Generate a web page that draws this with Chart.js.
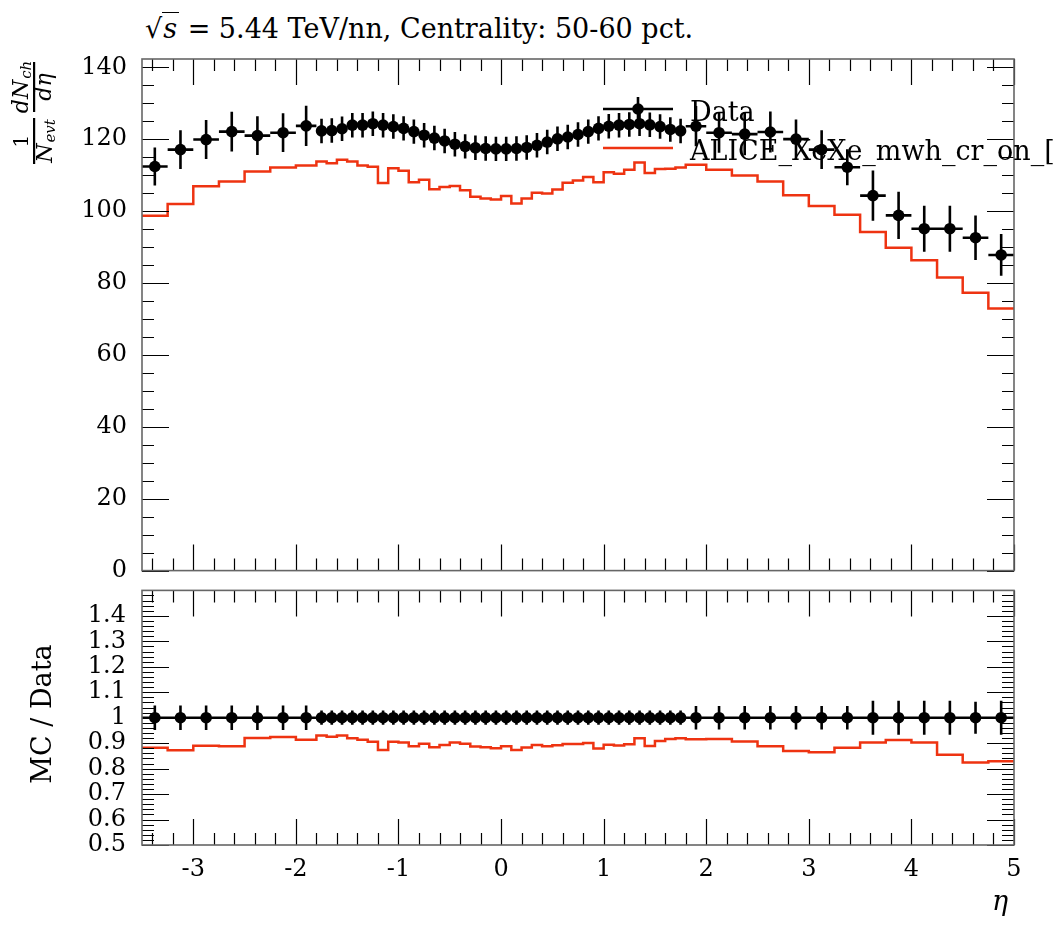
<!DOCTYPE html>
<html lang="en">
<head>
<meta charset="UTF-8">
<title>dN/deta XeXe 5.44 TeV, 50-60%</title>
<style>
  body { margin: 0; background: #fff; }
  #wrap { position: relative; width: 1054px; height: 930px; overflow: hidden; }
  #wrap canvas { position: absolute; left: 0; }
  #title { position: absolute; left: 145px; top: 13px; font: 27px "DejaVu Serif", serif; white-space: nowrap; color: #000; }
  #title .rad { font-style: italic; border-top: 1.5px solid #000; padding: 0 2px 0 1px; }
</style>
</head>
<body>
<div id="wrap">
  <div id="title">√<span class="rad">s</span> = 5.44 TeV/nn, Centrality: 50-60 pct.</div>
  <canvas id="mainChart" width="1054" height="600" style="top:0"></canvas>
  <canvas id="ratioChart" width="1054" height="370" style="top:560px"></canvas>
</div>

<script src="https://cdn.jsdelivr.net/npm/chart.js"></script>
<script>
// bin edges in eta (56 bins)
const etaEdges = [-3.5, -3.25, -3.0, -2.75, -2.5, -2.25, -2.0, -1.8,
  -1.7, -1.6, -1.5, -1.4, -1.3, -1.2, -1.1, -1.0, -0.9, -0.8, -0.7, -0.6, -0.5, -0.4, -0.3, -0.2, -0.1,
  0.0, 0.1, 0.2, 0.3, 0.4, 0.5, 0.6, 0.7, 0.8, 0.9, 1.0, 1.1, 1.2, 1.3, 1.4, 1.5, 1.6, 1.7, 1.8,
  2.0, 2.25, 2.5, 2.75, 3.0, 3.25, 3.5, 3.75, 4.0, 4.25, 4.5, 4.75, 5.0];

// measured dN/deta (Data)
const dataVals = [112.4, 117.1, 119.9, 122.1, 121.0, 121.8, 123.7,
  122.3, 122.4, 122.9, 123.9, 123.9, 124.3, 123.9, 123.5, 123.0, 122.1, 121.1, 120.3, 119.5, 118.6, 118.0, 117.6, 117.4, 117.3,
  117.3, 117.4, 117.7, 118.3, 119.2, 120.1, 120.6, 121.3, 122.1, 123.0, 123.6, 123.9, 124.1, 124.3, 124.0, 123.5, 122.7, 122.3,
  123.6, 121.8, 121.4, 122.0, 120.0, 117.1, 112.2, 104.3, 98.8, 95.1, 95.1, 92.6, 87.8];
const dataErr = [5.3, 5.4, 5.4, 5.5, 5.4, 5.4, 5.6,
  3.4, 3.4, 3.4, 3.4, 3.4, 3.4, 3.4, 3.4, 3.4, 3.4, 3.4, 3.4, 3.4, 3.4, 3.4, 3.4, 3.4, 3.4,
  3.4, 3.4, 3.4, 3.4, 3.4, 3.4, 3.4, 3.4, 3.4, 3.4, 3.4, 3.4, 3.4, 3.4, 3.4, 3.4, 3.4, 3.4,
  5.6, 5.6, 5.9, 5.7, 5.5, 5.4, 5.0, 7.0, 6.6, 6.4, 6.4, 6.2, 5.8];

// ALICE_XeXe_mwh_cr_on (MC histogram)
const mcVals = [98.7, 102.0, 106.9, 108.2, 111.0, 112.1, 112.7,
  113.8, 113.3, 114.3, 113.8, 112.7, 112.3, 107.8, 111.9, 111.2, 108.0, 108.7, 106.1, 106.7, 107.0, 105.8, 104.0, 103.5, 103.2,
  104.2, 102.1, 103.5, 105.1, 104.9, 106.0, 107.9, 108.5, 109.5, 108.0, 110.8, 110.4, 111.5, 113.5, 110.6, 111.7, 111.8, 112.1,
  112.9, 111.5, 109.9, 108.2, 104.4, 101.4, 99.0, 94.2, 89.8, 86.3, 81.5, 77.3, 72.9];

// ratio panel
const ratioMc = [0.882, 0.872, 0.890, 0.888, 0.920, 0.924, 0.913,
  0.930, 0.925, 0.930, 0.919, 0.913, 0.906, 0.873, 0.906, 0.903, 0.888, 0.898, 0.884, 0.893, 0.903, 0.898, 0.887, 0.884, 0.880,
  0.888, 0.873, 0.883, 0.893, 0.888, 0.892, 0.897, 0.897, 0.901, 0.879, 0.894, 0.891, 0.896, 0.919, 0.889, 0.908, 0.916, 0.919,
  0.915, 0.916, 0.907, 0.888, 0.869, 0.864, 0.882, 0.903, 0.912, 0.903, 0.854, 0.824, 0.829];
const ratioData = [1, 1, 1, 1, 1, 1, 1,
  1, 1, 1, 1, 1, 1, 1, 1, 1, 1, 1, 1, 1, 1, 1, 1, 1, 1,
  1, 1, 1, 1, 1, 1, 1, 1, 1, 1, 1, 1, 1, 1, 1, 1, 1, 1,
  1, 1, 1, 1, 1, 1, 1, 1, 1, 1, 1, 1, 1];
const ratioErr = [0.048, 0.048, 0.048, 0.048, 0.048, 0.048, 0.048,
  0.028, 0.028, 0.028, 0.028, 0.028, 0.028, 0.028, 0.028, 0.028, 0.028, 0.028, 0.028, 0.028, 0.028, 0.028, 0.028, 0.028, 0.028,
  0.028, 0.028, 0.028, 0.028, 0.028, 0.028, 0.028, 0.028, 0.028, 0.028, 0.028, 0.028, 0.028, 0.028, 0.028, 0.028, 0.028, 0.028,
  0.046, 0.046, 0.046, 0.046, 0.046, 0.046, 0.046, 0.067, 0.067, 0.067, 0.067, 0.063, 0.067];

// tick labels
const xTicks = [-3, -2, -1, 0, 1, 2, 3, 4, 5];
const yTicksMain = [0, 20, 40, 60, 80, 100, 120, 140];
const yTicksRatio = [0.5, 0.6, 0.7, 0.8, 0.9, 1, 1.1, 1.2, 1.3, 1.4];
const yMarksRatio = [0.5, 0.6, 0.7, 0.8, 0.9, 1, 1.1, 1.2, 1.3, 1.4, 1.5];

const serif = '"DejaVu Serif", serif';
const RED = '#ee3311';

function minorTicks(lo, hi, step, majors) {
  const out = [];
  const n = Math.round((hi - lo) / step);
  for (let k = 0; k <= n; k++) {
    const v = +(lo + k * step).toFixed(6);
    if (!majors.some(m => Math.abs(m - v) < 1e-9)) out.push(v);
  }
  return out;
}
const xMinor = minorTicks(-3.4, 5.0, 0.2, xTicks);

const centers = dataVals.map((_, i) => (etaEdges[i] + etaEdges[i + 1]) / 2);
const steps = vals => etaEdges.map((e, i) => ({ x: e, y: vals[Math.min(i, vals.length - 1)] }));
const points = vals => vals.map((v, i) => ({ x: centers[i], y: v }));

// inward ticks on all four sides + frame
function frame(yMajor, yMinor) {
  return {
    id: 'frame',
    afterDraw(chart) {
      const { ctx, chartArea: a, scales: { x, y } } = chart;
      ctx.save();
      ctx.strokeStyle = '#000';
      ctx.lineWidth = 1.2;
      ctx.beginPath();
      const vt = (v, len) => {
        const px = Math.round(x.getPixelForValue(v)) + 0.5;
        ctx.moveTo(px, a.top); ctx.lineTo(px, a.top + len);
        ctx.moveTo(px, a.bottom); ctx.lineTo(px, a.bottom - len);
      };
      const ht = (v, len) => {
        const py = Math.round(y.getPixelForValue(v)) + 0.5;
        ctx.moveTo(a.left, py); ctx.lineTo(a.left + len, py);
        ctx.moveTo(a.right, py); ctx.lineTo(a.right - len, py);
      };
      xTicks.forEach(v => vt(v, 26));
      xMinor.forEach(v => vt(v, 12));
      yMajor.forEach(v => ht(v, 27));
      yMinor.forEach(v => ht(v, 12));
      ctx.stroke();
      ctx.strokeStyle = '#666';
      ctx.lineWidth = 1.6;
      ctx.strokeRect(a.left, a.top, a.right - a.left, a.bottom - a.top);
      ctx.restore();
    }
  };
}

function errorBars(vals, errs) {
  return {
    id: 'errorBars',
    beforeDatasetsDraw(chart) {
      const { ctx, chartArea: a, scales: { x, y } } = chart;
      ctx.save();
      ctx.beginPath();
      ctx.rect(a.left, a.top, a.right - a.left, a.bottom - a.top);
      ctx.clip();
      ctx.strokeStyle = '#000';
      ctx.lineWidth = 2.6;
      ctx.beginPath();
      vals.forEach((v, i) => {
        const py = y.getPixelForValue(v);
        ctx.moveTo(x.getPixelForValue(etaEdges[i]), py);
        ctx.lineTo(x.getPixelForValue(etaEdges[i + 1]), py);
        const px = x.getPixelForValue(centers[i]);
        ctx.moveTo(px, y.getPixelForValue(v - errs[i]));
        ctx.lineTo(px, y.getPixelForValue(v + errs[i]));
      });
      ctx.stroke();
      ctx.restore();
    }
  };
}

// legend + rotated 1/N dN/deta label
const mainDecor = {
  id: 'mainDecor',
  afterDraw(chart) {
    const ctx = chart.ctx;
    ctx.save();
    // legend
    ctx.strokeStyle = '#000';
    ctx.lineWidth = 2.6;
    ctx.beginPath();
    ctx.moveTo(603, 109); ctx.lineTo(673, 109);
    ctx.moveTo(638, 97); ctx.lineTo(638, 121);
    ctx.stroke();
    ctx.fillStyle = '#000';
    ctx.beginPath(); ctx.arc(638, 109, 5.8, 0, Math.PI * 2); ctx.fill();
    ctx.strokeStyle = RED;
    ctx.lineWidth = 2.5;
    ctx.beginPath(); ctx.moveTo(603, 148); ctx.lineTo(673, 148); ctx.stroke();
    ctx.font = '27px ' + serif;
    ctx.textAlign = 'left';
    ctx.textBaseline = 'alphabetic';
    ctx.fillText('Data', 690, 121);
    ctx.fillText('ALICE_XeXe_mwh_cr_on_[', 690, 160);

    // y title as two stacked fractions, rotated
    const big = 'italic 22px ' + serif, sub = 'italic 15px ' + serif;
    ctx.translate(34, 164);
    ctx.rotate(-Math.PI / 2);
    ctx.fillRect(0, -1, 46, 2.2);
    ctx.font = '21px ' + serif;
    ctx.textAlign = 'center';
    ctx.fillText('1', 23, -6);
    ctx.textAlign = 'left';
    ctx.font = big;
    const nw = ctx.measureText('N').width;
    ctx.font = sub;
    const ew = ctx.measureText('evt').width;
    let x0 = 23 - (nw + ew + 1) / 2;
    ctx.font = big;
    ctx.fillText('N', x0, 18);
    ctx.font = sub;
    ctx.fillText('evt', x0 + nw + 1, 21);

    ctx.fillRect(52, -1, 50, 2.2);
    ctx.font = big;
    const dnw = ctx.measureText('dN').width;
    ctx.font = sub;
    const chw = ctx.measureText('ch').width;
    x0 = 77 - (dnw + chw + 1) / 2;
    ctx.font = big;
    ctx.fillText('dN', x0, -6);
    ctx.font = sub;
    ctx.fillText('ch', x0 + dnw + 1, -3);
    ctx.font = big;
    ctx.textAlign = 'center';
    ctx.fillText('dη', 77, 17);
    ctx.restore();
  }
};

const ratioDecor = {
  id: 'ratioDecor',
  afterDraw(chart) {
    const ctx = chart.ctx;
    ctx.save();
    ctx.fillStyle = '#000';
    ctx.textBaseline = 'alphabetic';
    ctx.textAlign = 'center';
    ctx.font = 'italic 27px ' + serif;
    ctx.fillText('η', 1000, 350);
    ctx.font = '27px ' + serif;
    ctx.translate(51, 154);
    ctx.rotate(-Math.PI / 2);
    ctx.fillText('MC / Data', 0, 0);
    ctx.restore();
  }
};

const tickFont = { family: serif, size: 24 };
const plainLabel = v => String(v);

new Chart(document.getElementById('mainChart'), {
  type: 'scatter',
  data: {
    datasets: [
      { label: 'Data', data: points(dataVals), pointRadius: 5.8, pointBackgroundColor: '#000', pointBorderWidth: 0, showLine: false },
      { label: 'ALICE_XeXe_mwh_cr_on', type: 'line', data: steps(mcVals), stepped: true, showLine: true,
        borderColor: RED, borderWidth: 2.5, pointRadius: 0, fill: false }
    ]
  },
  options: {
    responsive: false,
    animation: false,
    events: [],
    layout: { padding: { left: 0, right: 40, top: 59, bottom: 17 } },
    plugins: { legend: { display: false }, tooltip: { enabled: false } },
    scales: {
      x: { type: 'linear', min: -3.5, max: 5, display: false },
      y: {
        min: 0, max: 142.3,
        afterFit(s) { s.width = 142; },
        afterBuildTicks(s) { s.ticks = yTicksMain.map(v => ({ value: v })); },
        grid: { display: false, drawTicks: false },
        border: { display: false },
        ticks: { font: tickFont, color: '#000', padding: 15, autoSkip: false, callback: plainLabel }
      }
    }
  },
  plugins: [errorBars(dataVals, dataErr), frame(yTicksMain, minorTicks(0, 140, 5, yTicksMain)), mainDecor]
});

new Chart(document.getElementById('ratioChart'), {
  type: 'scatter',
  data: {
    datasets: [
      { label: 'Data', data: points(ratioData), pointRadius: 5.8, pointBackgroundColor: '#000', pointBorderWidth: 0, showLine: false },
      { label: 'MC/Data', type: 'line', data: steps(ratioMc), stepped: true, showLine: true,
        borderColor: RED, borderWidth: 2.5, pointRadius: 0, fill: false }
    ]
  },
  options: {
    responsive: false,
    animation: false,
    events: [],
    layout: { padding: { left: 0, right: 40, top: 23, bottom: 0 } },
    plugins: { legend: { display: false }, tooltip: { enabled: false } },
    scales: {
      x: {
        type: 'linear', min: -3.5, max: 5,
        afterFit(s) { s.height = 85; },
        afterBuildTicks(s) { s.ticks = xTicks.map(v => ({ value: v })); },
        grid: { display: false, drawTicks: false },
        border: { display: false },
        ticks: { font: tickFont, color: '#000', padding: 10, autoSkip: false, maxRotation: 0, callback: plainLabel }
      },
      y: {
        min: 0.5, max: 1.5,
        afterFit(s) { s.width = 142; },
        afterBuildTicks(s) { s.ticks = yTicksRatio.map(v => ({ value: v })); },
        grid: { display: false, drawTicks: false },
        border: { display: false },
        ticks: { font: tickFont, color: '#000', padding: 16, autoSkip: false, callback: plainLabel }
      }
    }
  },
  plugins: [errorBars(ratioData, ratioErr),
    frame(yMarksRatio, minorTicks(0.5, 1.5, 0.02, yMarksRatio)),
    ratioDecor]
});
</script>
</body>
</html>
